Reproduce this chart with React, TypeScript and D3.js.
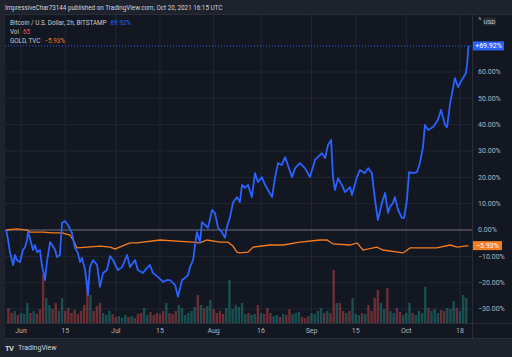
import React from "react";
import * as d3 from "d3";

// ---- DATA ----
// Bitcoin / USD (2h, BITSTAMP) percent change vs. first bar; [days since 2021-06-01, % change]
const btcSeries: [number, number][] = [
  [-4.7, 0], [-4.1, -3.8], [-3.5, -8.4], [-2.5, -13.3], [-1.9, -9.5], [-1.3, -11.4], [-0.3, -12.2],
  [0.6, -7.6], [1.3, -6.5], [1.9, -3.8], [2.2, -0.8], [2.8, -3.0], [3.8, -7.6], [4.4, -5.7],
  [5.1, -8.4], [6.0, -7.6], [6.6, -13.3], [7.6, -19.0], [8.2, -12.2], [9.2, -4.6], [10.1, -6.1],
  [10.8, -7.6], [11.4, -10.3], [12.3, -9.5], [13.0, 2.7], [13.9, 3.4], [14.9, 1.9], [16.1, -1.1],
  [17.1, -6.8], [18.0, -8.7], [18.7, -12.2], [19.3, -10.6], [20.3, -15.2], [21.2, -24.7],
  [21.8, -14.1], [22.8, -11.4], [24.1, -13.3], [25.0, -21.6], [26.0, -16.3], [27.2, -15.2],
  [28.2, -9.9], [29.1, -11.4], [30.7, -15.2], [32.0, -14.1], [33.6, -9.5], [34.5, -14.1],
  [36.1, -11.4], [37.0, -15.2], [38.6, -16.3], [39.9, -14.4], [40.8, -13.3], [41.8, -16.3],
  [43.4, -17.9], [45.0, -19.7], [46.2, -19.0], [47.2, -19.0], [48.8, -20.9], [49.7, -25.4],
  [51.0, -19.0], [51.9, -18.2], [52.9, -17.1], [53.5, -14.1], [54.5, -11.4], [55.1, -5.7],
  [55.7, -0.8], [56.7, -4.6], [57.3, 3.0], [58.3, 1.9], [59.2, 0.8], [60.5, 7.6], [61.4, 6.5],
  [62.4, 0.8], [63.6, -0.8], [64.6, -3.0], [65.2, 1.1], [66.2, 4.9], [67.1, 10.3], [68.4, 12.5],
  [69.3, 10.6], [70.0, 17.1], [70.9, 16.0], [71.9, 17.1], [73.1, 12.5], [74.1, 21.6], [75.0, 18.2],
  [76.3, 20.1], [77.3, 17.1], [78.2, 15.2], [79.5, 12.5], [80.4, 19.7], [81.4, 25.4], [82.6, 24.7],
  [83.6, 27.7], [84.5, 24.7], [85.8, 20.1], [86.8, 23.5], [88.3, 25.4], [89.9, 23.5], [91.5, 20.1],
  [93.1, 26.6], [94.0, 27.7], [95.3, 29.2], [96.3, 27.3], [97.2, 32.3], [98.2, 34.2], [98.8, 20.1],
  [99.4, 15.2], [100.4, 19.7], [101.6, 17.1], [102.6, 14.4], [104.2, 16.3], [104.8, 13.3],
  [106.4, 20.1], [107.3, 22.8], [108.9, 21.6], [109.9, 23.5], [111.1, 21.6], [112.1, 11.4],
  [113.0, 3.8], [114.3, 10.3], [115.3, 14.1], [116.2, 6.5], [116.8, 8.7], [117.8, 10.3],
  [118.4, 12.5], [119.4, 7.6], [120.6, 4.6], [121.3, 4.6], [122.2, 11.4], [122.9, 22.0],
  [124.1, 21.6], [125.4, 22.0], [126.3, 25.4], [127.3, 31.5], [127.9, 39.9], [128.9, 38.0],
  [130.5, 39.1], [132.0, 41.8], [133.0, 45.6], [134.3, 39.9], [134.9, 39.1], [135.9, 48.2],
  [137.4, 57.7], [138.4, 54.3], [139.6, 57.0], [140.9, 59.6], [141.3, 63.4], [141.7, 69.92],
];

// GOLD (TVC) percent change vs. first bar; [days since 2021-06-01, % change]
const goldSeries: [number, number][] = [
  [-4.7, 0], [-1.3, 0.4], [1.9, 0], [2.8, -0.8], [7.0, -0.8], [10.1, -1.1], [13.0, -1.1],
  [15.5, -1.9], [16.5, -3.8], [17.7, -6.8], [20.9, -6.5], [25.0, -6.1], [28.2, -6.5], [29.8, -7.2],
  [34.5, -4.9], [36.7, -4.9], [44.0, -3.8], [49.4, -4.2], [54.5, -4.6], [56.7, -4.9], [58.9, -3.8],
  [63.0, -4.6], [65.5, -4.6], [67.1, -6.1], [68.4, -8.4], [69.3, -8.7], [71.9, -8.4], [73.5, -6.5],
  [78.8, -5.7], [83.0, -5.7], [88.3, -4.6], [94.7, -3.8], [96.9, -3.8], [98.8, -5.3], [104.2, -5.7],
  [106.4, -4.9], [108.3, -7.6], [112.7, -6.5], [114.6, -7.6], [121.0, -8.7], [123.2, -6.8],
  [131.7, -6.8], [135.9, -5.7], [138.1, -6.5], [141.7, -5.93],
];

// Volume (relative units), one value per day starting at VOL_START_DAY
const VOL_START_DAY = -4;
const volumeValues: number[] = [
  15, 10, 12, 8, 10, 9, 20, 10, 12, 9, 14, 48, 25, 18, 14, 20, 12, 25, 12, 15,
  10, 13, 9, 12, 18, 43, 28, 12, 17, 20, 10, 8, 12, 9, 6, 7, 5, 8, 6, 7,
  5, 9, 10, 15, 8, 11, 8, 10, 9, 12, 20, 10, 9, 12, 18, 15, 8, 10, 12, 16,
  28, 18, 15, 17, 23, 14, 10, 12, 9, 15, 43, 14, 18, 16, 20, 9, 10, 8, 9, 18,
  10, 9, 15, 10, 7, 8, 6, 9, 8, 14, 9, 10, 11, 6, 5, 7, 10, 9, 12, 15,
  10, 12, 10, 53, 20, 20, 12, 10, 12, 25, 9, 8, 10, 9, 18, 12, 25, 33, 20, 14,
  35, 12, 10, 15, 11, 8, 10, 20, 10, 8, 12, 10, 36, 15, 12, 14, 10, 13, 12, 15,
  14, 22, 15, 12, 28, 25,
];

const yTicks = [-30, -20, -10, 0, 10, 20, 30, 40, 50, 60];
const xTicks: { date: [number, number, number]; label: string }[] = [
  { date: [2021, 5, 1], label: "Jun" },
  { date: [2021, 5, 15], label: "15" },
  { date: [2021, 6, 1], label: "Jul" },
  { date: [2021, 6, 15], label: "15" },
  { date: [2021, 7, 1], label: "Aug" },
  { date: [2021, 7, 16], label: "16" },
  { date: [2021, 8, 1], label: "Sep" },
  { date: [2021, 8, 15], label: "15" },
  { date: [2021, 9, 1], label: "Oct" },
  { date: [2021, 9, 18], label: "18" },
];

const TITLE = "ImpressiveChar73144 published on TradingView.com, Oct 20, 2021 16:15 UTC";
const BTC_LABEL = "Bitcoin / U.S. Dollar, 2h, BITSTAMP";
const GOLD_LABEL = "GOLD, TVC";
const VOL_LABEL = "Vol";
const VOL_LAST = "65";

// ---- LAYOUT / STYLE ----
const W = 512;
const H = 357;
const PANE = { left: 5, right: 472, top: 15, bottom: 323 };
const AXIS_BOTTOM = 338;
const BASE = Date.UTC(2021, 5, 1);
const dayToDate = (d: number) => new Date(BASE + d * 86400000);

const BLUE = "#2962ff";
const ORANGE = "#f57c1f";
const RED = "#ef5350";
const GREEN = "#26a69a";
const TEXT = "#b2b5be";
const FONT = "Roboto, 'Liberation Sans', sans-serif";

const fmtPct = (v: number) => (v < 0 ? "−" : "") + Math.abs(v).toFixed(2) + "%";

export default function App() {
  const x = d3
    .scaleUtc()
    .domain([dayToDate(-5.07), dayToDate(142.81)])
    .range([PANE.left, PANE.right]);
  const y = d3.scaleLinear().domain([-35.32, 81.66]).range([PANE.bottom, PANE.top]);
  const vy = d3.scaleLinear().domain([0, 100]).range([PANE.bottom, PANE.bottom - 100]);

  const line = d3
    .line<[number, number]>()
    .x((d) => x(dayToDate(d[0])))
    .y((d) => y(d[1]));

  const btcDays = btcSeries.map((d) => d[0]);
  const btcAt = (day: number) => {
    const i = d3.bisectLeft(btcDays, day);
    if (i <= 0) return btcSeries[0][1];
    if (i >= btcSeries.length) return btcSeries[btcSeries.length - 1][1];
    const a = btcSeries[i - 1];
    const b = btcSeries[i];
    const t = (day - a[0]) / (b[0] - a[0]);
    return a[1] + t * (b[1] - a[1]);
  };

  const btcLast = btcSeries[btcSeries.length - 1];
  const goldLast = goldSeries[goldSeries.length - 1];
  const btcLastY = y(btcLast[1]);
  const goldLastY = y(goldLast[1]);
  const barW = 2.4;

  return (
    <svg
      width={W}
      height={H}
      style={{ position: "absolute", left: 0, top: 0, display: "block" }}
      fontFamily={FONT}
    >
      <rect x={0} y={0} width={W} height={H} fill="#1e222d" />
      <rect x={PANE.left} y={PANE.top} width={W - PANE.left} height={AXIS_BOTTOM - PANE.top} fill="#131722" />

      {/* grid */}
      {yTicks.map((t) => (
        <line key={"gy" + t} x1={PANE.left} x2={PANE.right} y1={y(t)} y2={y(t)} stroke="#222633" strokeWidth={1} />
      ))}
      {xTicks.map((t) => {
        const xx = x(new Date(Date.UTC(...t.date)));
        return <line key={"gx" + t.label + xx} x1={xx} x2={xx} y1={PANE.top} y2={PANE.bottom} stroke="#222633" strokeWidth={1} />;
      })}

      {/* volume */}
      {volumeValues.map((v, i) => {
        const day = VOL_START_DAY + i;
        const up = btcAt(day + 0.5) >= btcAt(day - 0.5);
        const xx = x(dayToDate(day));
        return (
          <rect
            key={"v" + i}
            x={xx - barW / 2}
            y={vy(v)}
            width={barW}
            height={PANE.bottom - vy(v)}
            fill={up ? GREEN : RED}
            opacity={0.4}
          />
        );
      })}

      {/* zero line */}
      <line x1={PANE.left} x2={PANE.right} y1={y(0)} y2={y(0)} stroke="#6a6d78" strokeWidth={1} />

      {/* last price line */}
      <line x1={PANE.left} x2={PANE.right} y1={btcLastY} y2={btcLastY} stroke={BLUE} strokeWidth={1} strokeDasharray="1 2" />

      {/* series */}
      <path d={line(goldSeries) || ""} fill="none" stroke={ORANGE} strokeWidth={1.3} />
      <path d={line(btcSeries) || ""} fill="none" stroke={BLUE} strokeWidth={1.8} strokeLinejoin="round" />

      {/* pane borders */}
      <line x1={PANE.right + 0.5} x2={PANE.right + 0.5} y1={PANE.top} y2={AXIS_BOTTOM} stroke="#2a2e39" />
      <line x1={PANE.left} x2={W} y1={PANE.bottom + 0.5} y2={PANE.bottom + 0.5} stroke="#2a2e39" />
      <line x1={PANE.left} x2={W} y1={AXIS_BOTTOM + 0.5} y2={AXIS_BOTTOM + 0.5} stroke="#2a2e39" />
      <line x1={PANE.left} x2={W} y1={PANE.top - 0.5} y2={PANE.top - 0.5} stroke="#2a2e39" />

      {/* right axis */}
      {yTicks.map((t) => (
        <text key={"ty" + t} x={478} y={y(t)} dy="0.35em" fontSize={7} fill={TEXT}>
          {fmtPct(t)}
        </text>
      ))}
      <rect x={473} y={btcLastY - 4.5} width={31} height={9} fill={BLUE} />
      <text x={488.5} y={btcLastY} dy="0.35em" fontSize={7} fill="#ffffff" textAnchor="middle">
        {"+" + btcLast[1].toFixed(2) + "%"}
      </text>
      <rect x={473} y={goldLastY - 4.5} width={29} height={9} fill={ORANGE} />
      <text x={487.5} y={goldLastY} dy="0.35em" fontSize={7} fill="#ffffff" textAnchor="middle">
        {fmtPct(goldLast[1])}
      </text>
      <rect x={483} y={17.5} width={13} height={8} rx={2} fill="#2a2e39" />
      <text x={489.5} y={21.5} dy="0.35em" fontSize={6} fill="#d1d4dc" textAnchor="middle">USD</text>
      <text x={480} y={18.5} dy="0.35em" fontSize={4} fill="#d1d4dc" textAnchor="middle">%</text>

      {/* bottom axis */}
      {xTicks.map((t) => {
        const xx = x(new Date(Date.UTC(...t.date)));
        return (
          <text key={"tx" + t.label + xx} x={xx} y={331} dy="0.35em" fontSize={7} fill={TEXT} textAnchor="middle">
            {t.label}
          </text>
        );
      })}

      {/* header */}
      <text x={5} y={8} dy="0.35em" fontSize={6.3} fill="#d1d4dc">{TITLE}</text>

      {/* legend */}
      <text x={10} y={23} dy="0.35em" fontSize={6.3} fill="#c8cbd3">
        {BTC_LABEL}
        <tspan dx={4} fill={BLUE}>{btcLast[1].toFixed(2) + "%"}</tspan>
      </text>
      <text x={10} y={32} dy="0.35em" fontSize={6.3} fill="#c8cbd3">
        {VOL_LABEL}
        <tspan dx={4} fill={RED}>{VOL_LAST}</tspan>
      </text>
      <text x={10} y={41} dy="0.35em" fontSize={6.3} fill="#c8cbd3">
        {GOLD_LABEL}
        <tspan dx={4} fill={ORANGE}>{fmtPct(goldLast[1])}</tspan>
      </text>

      {/* footer logo */}
      <text x={5} y={348} dy="0.35em" fontSize={7.5} fontWeight="bold" fill="#d1d4dc" letterSpacing={-0.8}>
        TV
      </text>
      <text x={18} y={348} dy="0.35em" fontSize={7} fill="#d1d4dc">TradingView</text>
    </svg>
  );
}
